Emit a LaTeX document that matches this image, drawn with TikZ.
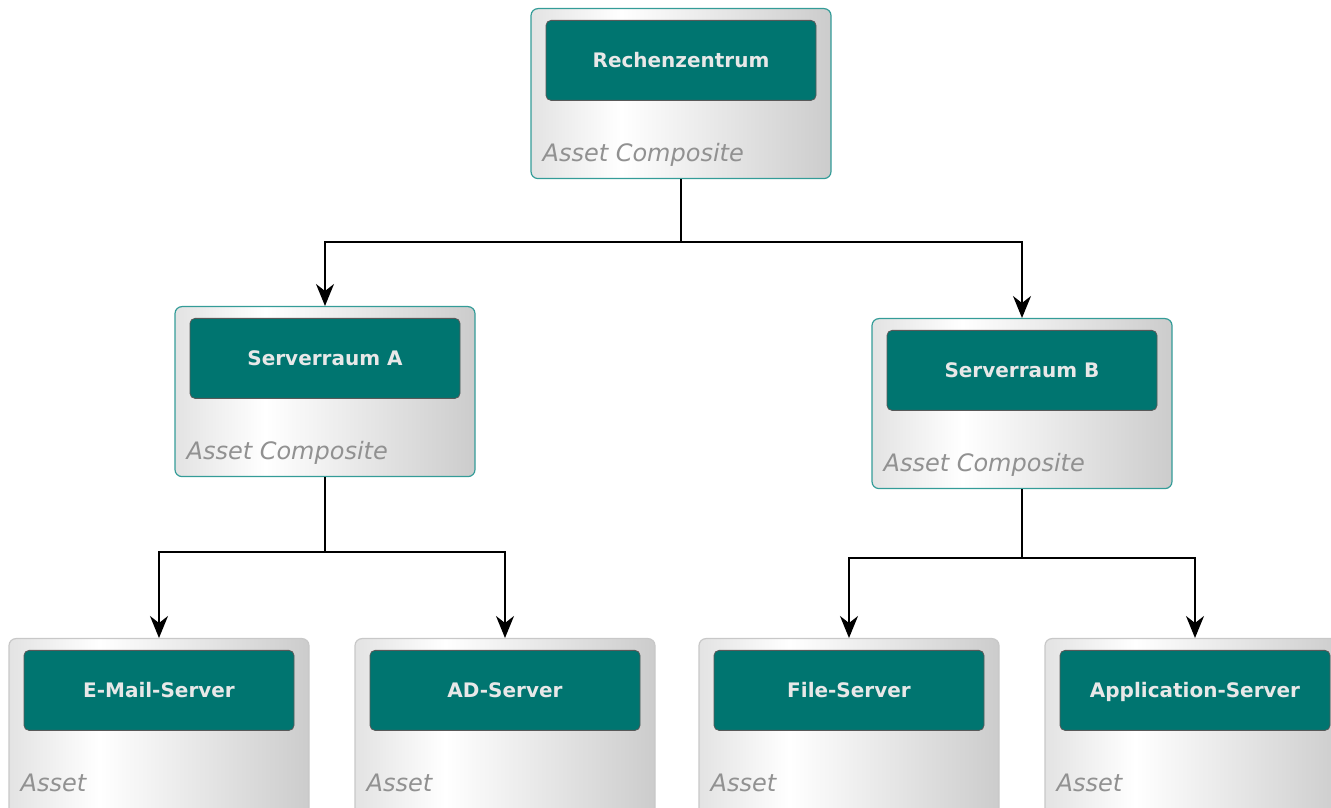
\documentclass[tikz,border=0pt]{standalone}
\usepackage{fontspec}
\setmainfont{DejaVu Sans}
\usepackage{xcolor}
\usepackage{tikz}
\usetikzlibrary{positioning, calc, arrows.meta}
\definecolor{tealfill}{RGB}{0,117,112}
\definecolor{tealline}{RGB}{52,156,152}
\definecolor{leafline}{RGB}{200,200,200}
\definecolor{namecol}{RGB}{232,232,232}
\definecolor{typecol}{RGB}{145,145,145}
\pgfdeclarehorizontalshading{boxshade}{100bp}{color(0bp)=(gray!22); color(25bp)=(gray!22); color(40bp)=(white); color(75bp)=(gray!40); color(100bp)=(gray!40)}
\tikzstyle{arrow} = [line width=1.6pt, -{Stealth[length=22pt,width=18pt,inset=7pt]}]
\tikzstyle{composite} = [rectangle, rounded corners=7pt, minimum width=300pt, minimum height=170pt, draw=tealline, line width=1.2pt, shade, shading=boxshade, anchor=north]
\tikzstyle{leaf} = [composite, draw=leafline, minimum height=176pt]
\tikzstyle{namebox} = [rectangle, rounded corners=5pt, minimum width=270pt, minimum height=80pt, text height=15pt, text depth=1pt, draw=gray!70!black, line width=0.8pt, fill=tealfill, text=namecol, font=\bfseries\fontsize{20}{24}\selectfont]
\tikzstyle{typelabel} = [anchor=base west, text=typecol, inner sep=0pt, font=\itshape\fontsize{24}{28}\selectfont]

\begin{document}
\begin{tikzpicture}[x=1pt, y=1pt]
    \useasboundingbox (0,0) rectangle (1331,808);

    % Rechenzentrum
    \node[composite] (rz) at (681,800) {};
    \node[namebox, below=12pt of rz.north] (rzname) {Rechenzentrum};
    \node[typelabel] (rztype) at ($(rz.north west)+(12,-154)$) {Asset Composite};

    % Serverraeume
    \node[composite] (sa) at (325,502) {};
    \node[namebox, below=12pt of sa.north] (saname) {Serverraum A};
    \node[typelabel] (satype) at ($(sa.north west)+(12,-154)$) {Asset Composite};

    \node[composite] (sb) at (1022,490) {};
    \node[namebox, below=12pt of sb.north] (sbname) {Serverraum B};
    \node[typelabel] (sbtype) at ($(sb.north west)+(12,-154)$) {Asset Composite};

    % Server
    \node[leaf] (mail) at (159,170) {};
    \node[namebox, below=12pt of mail.north] (mailname) {E-Mail-Server};
    \node[typelabel] (mailtype) at ($(mail.north west)+(12,-154)$) {Asset};

    \node[leaf] (ad) at (505,170) {};
    \node[namebox, below=12pt of ad.north] (adname) {AD-Server};
    \node[typelabel] (adtype) at ($(ad.north west)+(12,-154)$) {Asset};

    \node[leaf] (file) at (849,170) {};
    \node[namebox, below=12pt of file.north] (filename) {File-Server};
    \node[typelabel] (filetype) at ($(file.north west)+(12,-154)$) {Asset};

    \node[leaf] (app) at (1195,170) {};
    \node[namebox, below=12pt of app.north] (appname) {Application-Server};
    \node[typelabel] (apptype) at ($(app.north west)+(12,-154)$) {Asset};

    % Arrows
    \draw[arrow] (rz.south) -- ++(0,-63) -| (sa.north);
    \draw[arrow] (rz.south) -- ++(0,-63) -| (sb.north);
    \draw[arrow] (sa.south) -- ++(0,-75) -| (mail.north);
    \draw[arrow] (sa.south) -- ++(0,-75) -| (ad.north);
    \draw[arrow] (sb.south) -- ++(0,-69) -| (file.north);
    \draw[arrow] (sb.south) -- ++(0,-69) -| (app.north);

\end{tikzpicture}
\end{document}
